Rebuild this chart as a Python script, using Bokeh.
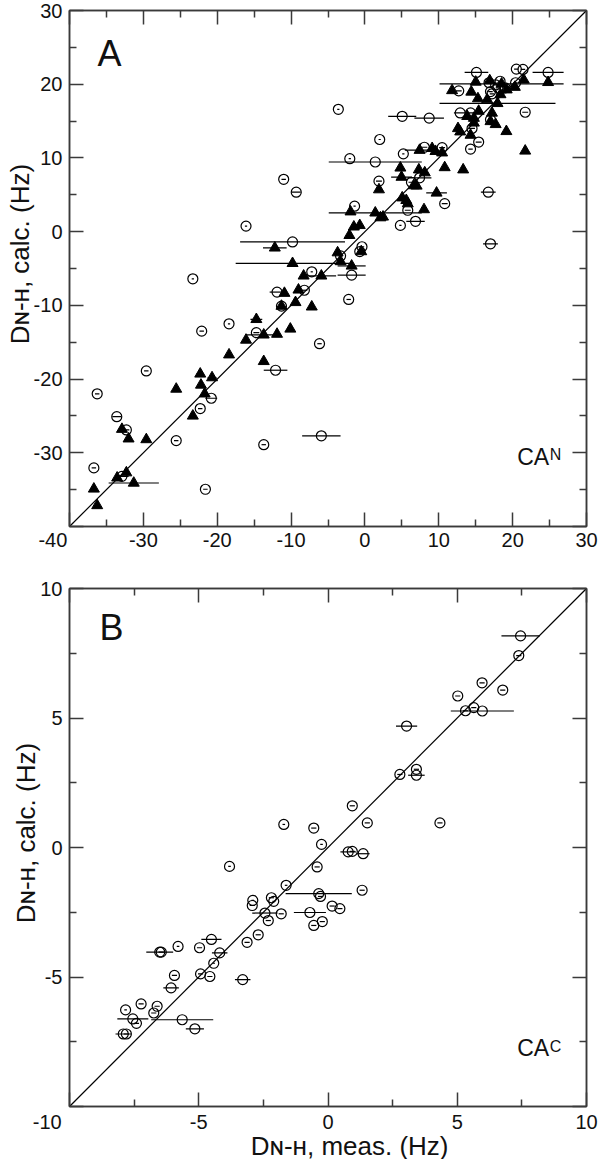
from bokeh.plotting import figure
from bokeh.layouts import column
from bokeh.models import Label, LinearAxis, FixedTicker, Range1d
from bokeh.embed import file_html
from bokeh.resources import INLINE

# ---------------- Panel A data (CA^N) ----------------
a_range = [-40, 30]
a_major = [-40, -30, -20, -10, 0, 10, 20, 30]
a_major_labels = ["-40", "-30", "-20", "-10", "0", "10", "20", "30"]
a_minor = [-35, -25, -15, -5, 5, 15, 25]

a_circ_x = [15.1, 20.5, 21.4, 24.8, 18.3, 17.7, 16.8, 17.0, 18.0, 19.0, 20.4, 12.7, 17.2, 21.7,
            -3.6, 5.05, 8.7, 12.9, 14.3, 17.0, 14.5, 15.4, 14.3, 2.0, 5.2, 8.05, 10.45, -2.05,
            1.4, 6.3, 7.4, 1.9, 16.7, 10.8, -1.4, 5.8, 6.85, 4.8, 17.0, -0.4, -0.7, -3.3,
            -1.8, -7.2, -8.2, -2.2, -6.15, -5.9, -11.0, -9.3, -16.1, -9.8, -23.3, -11.9, -11.3,
            -18.4, -22.1, -14.7, -12.1, -29.6, -20.8, -36.25, -22.3, -33.6, -32.3, -25.55,
            -13.7, -36.7, -32.9, -21.6]
a_circ_y = [21.6, 22.05, 22.0, 21.6, 20.4, 19.9, 20.2, 19.0, 19.5, 19.5, 20.2, 19.1, 18.7, 16.2,
            16.6, 15.65, 15.4, 16.1, 16.1, 15.2, 14.0, 12.15, 11.2, 12.5, 10.55, 11.45, 11.4, 9.9,
            9.45, 6.7, 7.3, 6.85, 5.35, 3.8, 3.45, 2.9, 1.4, 0.85, -1.65, -2.05, -2.7, -3.3,
            -5.9, -5.45, -7.95, -9.2, -15.2, -27.7, 7.1, 5.35, 0.75, -1.4, -6.4, -8.2, -10.1,
            -12.5, -13.5, -13.7, -18.8, -18.9, -22.6, -22.0, -24.0, -25.1, -26.9, -28.35,
            -28.9, -32.05, -33.2, -34.95]
a_circ_err = [1.6, 0.3, 0.3, 2.1, 0.3, 0.3, 0.3, 0.3, 0.3, 0.3, 0.3, 0.4, 0.3, 0.4,
              0.15, 1.9, 2.0, 0.85, 0.4, 0.3, 0.4, 0.4, 0.3, 0.15, 0.15, 0.4, 0.4, 0.15,
              6.3, 0.4, 1.6, 0.4, 1.0, 0.4, 0.15, 0.4, 1.25, 0.15, 1.0, 0.3, 0.3, 0.3,
              1.9, 0.15, 0.4, 0.3, 0.3, 2.6, 0.3, 0.6, 0.15, 7.1, 0.15, 1.0, 0.3,
              0.15, 0.3, 0.4, 1.6, 0.3, 0.8, 0.3, 0.3, 0.6, 0.4, 0.3,
              0.3, 0.3, 0.9, 0.3]

a_tri_x = [21.5, 24.8, 18.5, 15.0, 16.9, 20.3, 11.8, 14.4, 19.2, 18.35, 15.3, 16.55, 17.95,
           15.4, 17.2, 13.85, 14.75, 14.75, 17.0, 17.7, 19.15, 12.6, 12.9, 14.3, 21.7,
           7.4, 9.1, 9.55, 10.45, 4.8, 7.3, 8.1, 10.8, 13.3, 4.95, 6.6, 7.0, 1.9, 9.7,
           5.05, 5.6, 5.8, 8.0, 1.4, -1.95, 2.1, 2.45, -1.5, -0.7, -2.1, -3.7, -0.5,
           -3.3, -1.8, -5.9, -8.3, -9.8, -12.2, -7.2, -10.9, -9.0, -11.3, -9.4, -14.7,
           -13.7, -11.9, -10.1, -16.1, -18.4, -13.7, -22.3, -20.7, -22.2, -25.55, -21.7,
           -23.3, -32.9, -32.0, -29.6, -32.3, -33.55, -31.3, -36.7, -36.25]
a_tri_y = [20.6, 20.25, 20.05, 20.3, 20.5, 19.6, 19.15, 18.95, 19.25, 18.6, 18.05, 17.9, 17.4,
           16.35, 16.1, 15.65, 15.4, 14.75, 14.95, 14.55, 13.6, 14.0, 13.55, 13.1, 10.95,
           11.05, 11.3, 10.9, 10.7, 8.65, 8.4, 8.0, 8.7, 8.4, 7.4, 6.25, 6.2, 5.7, 5.25,
           4.6, 4.25, 3.8, 3.0, 2.55, 2.7, 1.9, 2.0, 0.65, 0.85, -0.5, -2.85, -2.7,
           -4.05, -4.65, -6.0, -6.0, -4.3, -2.2, -10.2, -8.35, -7.9, -10.1, -9.6, -11.9,
           -14.0, -13.9, -13.2, -14.7, -16.7, -17.6, -19.3, -19.8, -20.8, -21.35, -22.0,
           -25.0, -26.8, -28.1, -28.2, -32.7, -33.4, -34.1, -34.9, -37.15]
a_tri_err = [0.3, 0.3, 8.4, 0.3, 0.3, 0.3, 0.3, 0.3, 0.3, 0.3, 0.3, 0.3, 7.85,
             0.3, 0.3, 0.3, 0.3, 0.3, 0.3, 0.3, 0.3, 0.3, 0.3, 0.3, 0.3,
             2.0, 0.3, 0.3, 0.3, 0.3, 0.3, 0.3, 0.3, 0.3, 1.4, 0.3, 0.3, 0.3, 1.4,
             0.3, 0.3, 0.3, 0.3, 6.3, 0.3, 0.3, 0.3, 0.3, 0.3, 0.3, 0.3, 0.3,
             0.3, 1.9, 2.0, 0.3, 7.7, 1.6, 0.3, 0.3, 0.3, 0.3, 0.3, 0.8,
             2.3, 0.3, 0.3, 0.3, 0.3, 0.3, 0.5, 0.6, 0.3, 0.3, 0.3,
             0.3, 0.3, 0.3, 0.3, 0.3, 0.3, 3.4, 0.3, 0.3]

# ---------------- Panel B data (CA^C) ----------------
b_range = [-10, 10]
b_major = [-10, -5, 0, 5, 10]
b_major_labels = ["-10", "-5", "0", "5", "10"]
b_minor = [-7.5, -2.5, 2.5, 7.5]

b_circ_x = [7.45, 7.38, 5.96, 6.76, 5.02, 5.32, 5.64, 5.97, 3.04, 2.78, 3.42, 3.42, 0.94, 1.52,
            4.33, -0.55, -0.25, 0.78, 0.94, 1.36, -1.71, -0.42, -0.36, -0.29, 1.32, 0.16, 0.46,
            -0.7, -0.55, -0.22, -3.81, -1.62, -2.91, -2.93, -2.19, -2.1, -2.44, -1.81, -2.31,
            -2.7, -3.13, -4.51, -4.19, -5.8, -4.97, -6.51, -6.45, -4.42, -5.94, -4.93, -4.57,
            -3.3, -6.07, -7.23, -6.61, -7.83, -6.74, -7.55, -7.41, -5.64, -5.15, -7.92, -7.8]
b_circ_y = [8.17, 7.41, 6.36, 6.08, 5.85, 5.28, 5.40, 5.27, 4.69, 2.82, 3.02, 2.79, 1.61, 0.95,
            0.95, 0.75, 0.12, -0.17, -0.15, -0.24, 0.89, -0.75, -1.78, -1.89, -1.65, -2.26, -2.36,
            -2.51, -3.01, -2.86, -0.73, -1.46, -2.04, -2.24, -1.94, -2.08, -2.53, -2.56, -2.82,
            -3.37, -3.66, -3.55, -4.07, -3.82, -3.87, -4.04, -4.04, -4.47, -4.94, -4.88, -4.98,
            -5.1, -5.42, -6.04, -6.13, -6.27, -6.39, -6.62, -6.79, -6.65, -7.0, -7.2, -7.2]
b_circ_err = [0.74, 0.1, 0.1, 0.1, 0.1, 0.1, 0.1, 1.22, 0.41, 0.1, 0.1, 0.32, 0.1, 0.1,
              0.1, 0.1, 0.05, 0.3, 0.1, 0.25, 0.05, 0.1, 1.28, 0.1, 0.1, 0.1, 0.1,
              0.62, 0.1, 0.1, 0.05, 0.05, 0.05, 0.1, 0.1, 0.05, 0.49, 0.1, 0.1,
              0.1, 0.1, 0.39, 0.3, 0.05, 0.1, 0.52, 0.1, 0.05, 0.1, 0.1, 0.1,
              0.3, 0.3, 0.1, 0.1, 0.05, 0.1, 0.6, 0.1, 1.2, 0.35, 0.3, 0.1]

y_label = "Dɴ-ʜ, calc. (Hz)"
x_label = "Dɴ-ʜ, meas. (Hz)"
NB = "\u00a0"

# ---------------- styling helpers ----------------
FONT = "Liberation Sans"
AXC = "#3a3a3a"
TXT = "#111111"
W = {'A': 667, 'C': 722}


def tw(s, f):
    return sum(W.get(ch, 556) for ch in s) * f / 1000.0


def make_fig(rng, major, labels, minor, fh, top, bottom, x_std, corner_pad):
    p = figure(frame_width=517, frame_height=fh, x_range=Range1d(*rng), y_range=Range1d(*rng),
               output_backend="svg", toolbar_location=None, x_axis_location=None,
               y_axis_location=None, min_border_left=69, min_border_right=14,
               min_border_top=top, min_border_bottom=bottom)
    p.grid.visible = False
    p.outline_line_color = AXC
    p.outline_line_width = 1.5
    p.background_fill_color = "white"
    p.border_fill_color = "white"
    axes = {}
    base = {t: s for t, s in zip(major, labels)}
    for loc in ["left", "below", "right", "above"]:
        ax = LinearAxis(ticker=FixedTicker(ticks=major, minor_ticks=minor))
        ax.major_tick_in = 14
        ax.major_tick_out = 0
        ax.minor_tick_in = 7
        ax.minor_tick_out = 0
        ax.axis_line_color = AXC
        ax.axis_line_width = 1.5
        ax.major_tick_line_color = AXC
        ax.major_tick_line_width = 1.5
        ax.minor_tick_line_color = AXC
        ax.minor_tick_line_width = 1.5
        ax.major_label_text_font = FONT
        ax.major_label_text_font_size = "20px"
        ax.major_label_text_color = TXT
        ax.axis_label_text_font = FONT
        ax.axis_label_text_font_style = "normal"
        ax.axis_label_text_color = TXT
        ax.axis_label_text_font_size = "26px"
        ax.axis_label_text_line_height = 0.8
        if loc == "left":
            ax.major_label_standoff = 7
            ov = dict(base)
            ov[major[0]] = ""
            ax.major_label_overrides = ov
        elif loc == "below":
            ax.major_label_standoff = x_std
            ov = dict(base)
            ov[major[0]] = labels[0] + NB * corner_pad
            ax.major_label_overrides = ov
        else:
            ax.major_label_standoff = 0
            ax.major_label_overrides = {t: "" for t in major}
        p.add_layout(ax, loc)
        axes[loc] = ax
    p.line(rng, rng, line_color="black", line_width=1.2)
    return p, axes


def errbars(p, xs, ys, es):
    p.segment(x0=[x - e for x, e in zip(xs, es)], y0=ys,
              x1=[x + e for x, e in zip(xs, es)], y1=ys, line_color="black", line_width=1.2)


def corner_label(p, main, sup, x, y, ysup):
    p.add_layout(Label(x=x, y=y, x_units="screen", y_units="screen", text=main,
                       text_font=FONT, text_font_size="23px", text_color=TXT))
    p.add_layout(Label(x=x + tw(main, 23) + 0.5, y=ysup, x_units="screen", y_units="screen",
                       text=sup, text_font=FONT, text_font_size="16px", text_color=TXT))


# ---------------- Panel A ----------------
pA, axA = make_fig(a_range, a_major, a_major_labels, a_minor, 516, 10, 40, 2, 6)
axA["left"].axis_label = NB * 4 + y_label
axA["left"].axis_label_standoff = -4
errbars(pA, a_circ_x, a_circ_y, a_circ_err)
errbars(pA, a_tri_x, a_tri_y, a_tri_err)
pA.scatter(a_circ_x, a_circ_y, marker="circle", size=10, fill_color=None,
           line_color="black", line_width=1.2)
pA.scatter(a_tri_x, a_tri_y, marker="triangle", size=11, fill_color="black",
           line_color="black", line_width=1)
pA.add_layout(Label(x=28, y=453, x_units="screen", y_units="screen", text="A",
                    text_font=FONT, text_font_size="36px", text_color=TXT))
corner_label(pA, "CA", "N", 447.7, 56.7, 63.3)

# ---------------- Panel B ----------------
pB, axB = make_fig(b_range, b_major, b_major_labels, b_minor, 518, 22, 53, 4, 8)
axB["left"].axis_label = NB * 4 + y_label
axB["left"].axis_label_standoff = -4
axB["below"].axis_label = NB * 6 + x_label
axB["below"].axis_label_standoff = -5
errbars(pB, b_circ_x, b_circ_y, b_circ_err)
pB.scatter(b_circ_x, b_circ_y, marker="circle", size=10, fill_color=None,
           line_color="black", line_width=1.2)
pB.add_layout(Label(x=30, y=459, x_units="screen", y_units="screen", text="B",
                    text_font=FONT, text_font_size="36px", text_color=TXT))
corner_label(pB, "CA", "C", 447.7, 46, 52)

layout = column(pA, pB, spacing=0)
open("out.html", "w").write(file_html(layout, INLINE))
